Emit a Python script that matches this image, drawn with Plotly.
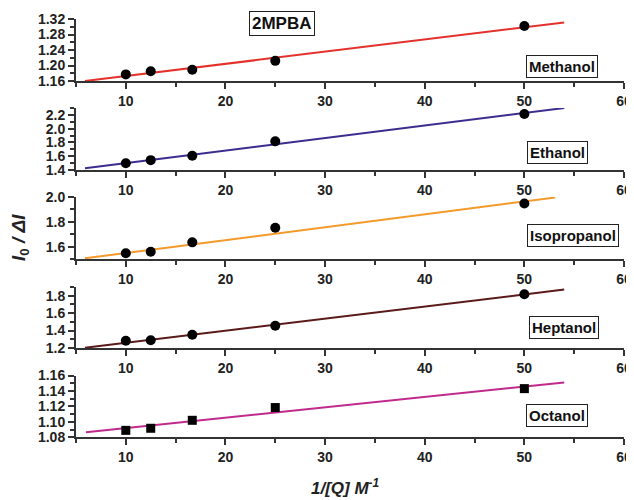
import plotly.graph_objects as go

# ---- data ----
x_vals = [10, 12.5, 16.67, 25, 50]
methanol = [1.177, 1.185, 1.189, 1.212, 1.302]
ethanol = [1.499, 1.543, 1.606, 1.816, 2.213]
isopropanol = [1.548, 1.561, 1.636, 1.753, 1.948]
heptanol = [1.284, 1.288, 1.353, 1.456, 1.817]
octanol = [1.089, 1.0917, 1.102, 1.1185, 1.143]

# fitted line endpoints
fit_x = {"Methanol": [5.9, 54.0], "Ethanol": [5.9, 54.0], "Isopropanol": [5.9, 53.1],
         "Heptanol": [5.9, 54.0], "Octanol": [6.0, 54.0]}
fit_y = {"Methanol": [1.160, 1.311], "Ethanol": [1.425, 2.300], "Isopropanol": [1.508, 1.996],
         "Heptanol": [1.203, 1.870], "Octanol": [1.0865, 1.151]}

names = ["Methanol", "Ethanol", "Isopropanol", "Heptanol", "Octanol"]
series = [methanol, ethanol, isopropanol, heptanol, octanol]
colors = ["#e4312b", "#3b2d8f", "#f39a2b", "#5b1a1a", "#c02a8c"]
symbols = ["circle", "circle", "circle", "circle", "square"]

y_ranges = [[1.16, 1.32], [1.4, 2.3], [1.5, 2.0], [1.2, 1.9], [1.08, 1.16]]
y_ticks = [[1.16, 1.20, 1.24, 1.28, 1.32], [1.4, 1.6, 1.8, 2.0, 2.2],
           [1.6, 1.8, 2.0], [1.2, 1.4, 1.6, 1.8], [1.08, 1.10, 1.12, 1.14, 1.16]]
y_ticktext = [["1.16", "1.20", "1.24", "1.28", "1.32"], ["1.4", "1.6", "1.8", "2.0", "2.2"],
              ["1.6", "1.8", "2.0"], ["1.2", "1.4", "1.6", "1.8"],
              ["1.08", "1.10", "1.12", "1.14", "1.16"]]
y_minor = [0.02, 0.1, 0.1, 0.1, 0.01]
x_tickvals = [10, 20, 30, 40, 50, 60]

# layout geometry: page pixel positions, compensated for the 8px page body margin
OFF = 8
W, H = 634 - OFF, 500 - OFF
ML = 76 - OFF
PLOT_W = 548
MR = W - ML - PLOT_W
panel_top = [19, 108, 197, 287, 375.5]
panel_bot = [81, 170, 259.3, 348, 437.3]
label_pos = [(562, 66.5), (557.5, 152), (573, 236), (564, 327), (557, 415)]


def px_to_paper_x(px):
    return (px - OFF - ML) / PLOT_W


def py_to_paper_y(py):
    return 1 - (py - OFF) / H


font_family = "Liberation Sans, Arial, sans-serif"
fig = go.Figure()
layout = dict(
    template="none",
    width=W, height=H, margin=dict(l=ML, r=MR, t=0, b=0, autoexpand=False),
    paper_bgcolor="white", plot_bgcolor="white", showlegend=False,
    font=dict(family=font_family, color="#222", size=14),
)

for i, name in enumerate(names):
    k = "" if i == 0 else str(i + 1)
    xa, ya = "x" + k, "y" + k
    fig.add_trace(go.Scatter(x=fit_x[name], y=fit_y[name], mode="lines",
                             line=dict(color=colors[i], width=2), xaxis=xa, yaxis=ya,
                             cliponaxis=True))
    fig.add_trace(go.Scatter(x=x_vals, y=series[i], mode="markers",
                             marker=dict(color="black", size=10 if symbols[i] == "circle" else 9,
                                         symbol=symbols[i], line=dict(width=0)),
                             xaxis=xa, yaxis=ya, cliponaxis=False))
    dom = [py_to_paper_y(panel_bot[i]), py_to_paper_y(panel_top[i])]
    layout["xaxis" + k] = dict(
        domain=[0, 1], range=[5, 60], anchor=ya, showgrid=False, zeroline=False,
        automargin=False,
        showline=True, linecolor="#333", linewidth=2,
        tickmode="array", tickvals=x_tickvals, ticktext=[f"<b>{v}</b>" for v in x_tickvals],
        ticks="outside", ticklen=6, tickwidth=2, tickcolor="#333",
        tickfont=dict(size=14, family=font_family, color="#222"),
        minor=dict(dtick=5, tick0=0, ticks="outside", ticklen=4, tickwidth=1.5, tickcolor="#333"),
    )
    layout["yaxis" + k] = dict(
        domain=dom, range=y_ranges[i], anchor=xa, showgrid=False, zeroline=False,
        automargin=False,
        showline=True, linecolor="#333", linewidth=2,
        tickmode="array", tickvals=y_ticks[i], ticktext=[f"<b>{t}</b>" for t in y_ticktext[i]],
        ticks="outside", ticklen=6, tickwidth=2, tickcolor="#333",
        tickfont=dict(size=14, family=font_family, color="#222"),
        minor=dict(dtick=y_minor[i], tick0=0, ticks="outside", ticklen=4, tickwidth=1.5,
                   tickcolor="#333"),
    )

annotations = []
for i, name in enumerate(names):
    px, py = label_pos[i]
    annotations.append(dict(
        text=f"<b>{name}</b>", xref="paper", yref="paper",
        x=px_to_paper_x(px), y=py_to_paper_y(py), xanchor="center", yanchor="middle",
        showarrow=False, bordercolor="#222", borderwidth=1, borderpad=2, bgcolor="white",
        font=dict(size=15, family=font_family, color="#111"),
    ))
annotations.append(dict(
    text="<b>2MPBA</b>", xref="paper", yref="paper",
    x=px_to_paper_x(282), y=py_to_paper_y(24), xanchor="center", yanchor="middle",
    showarrow=False, bordercolor="#222", borderwidth=1, borderpad=2, bgcolor="white",
    font=dict(size=17, family=font_family, color="#111"),
))
annotations.append(dict(
    text="<b><i>I</i><sub>0</sub><i> / ΔI</i></b>", xref="paper", yref="paper",
    x=px_to_paper_x(20), y=py_to_paper_y(238), xanchor="center", yanchor="middle",
    textangle=-90, showarrow=False, font=dict(size=19, family=font_family, color="#222"),
))
annotations.append(dict(
    text="<b><i>1/[Q] M<sup>-1</sup></i></b>", xref="paper", yref="paper",
    x=px_to_paper_x(345), y=py_to_paper_y(487), xanchor="center", yanchor="middle",
    showarrow=False, font=dict(size=17, family=font_family, color="#222"),
))
layout["annotations"] = annotations

fig.update_layout(**layout)
fig.write_html("out.html", config={"responsive": False})
